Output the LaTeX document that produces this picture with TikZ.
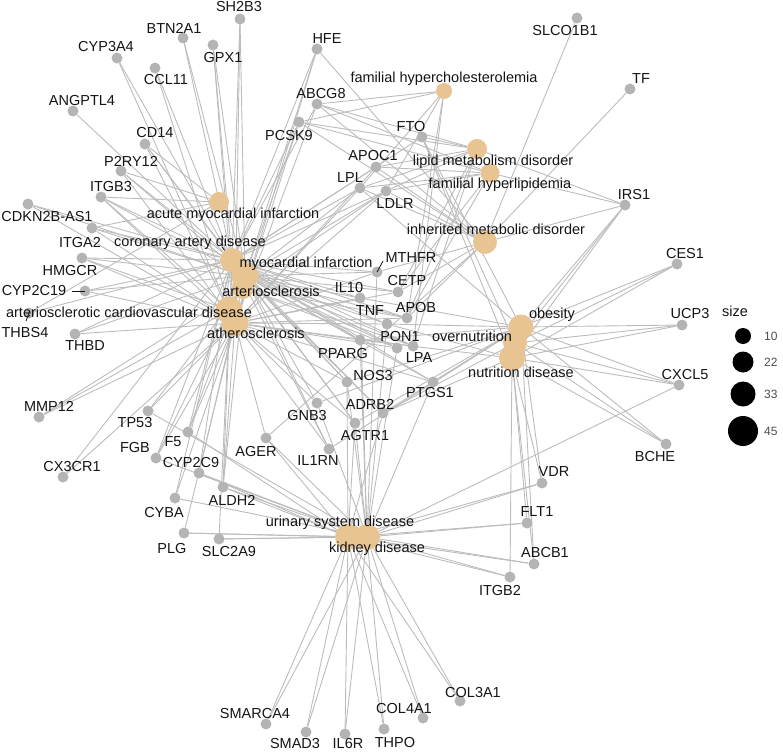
\documentclass[tikz,border=0pt]{standalone}
\usepackage{fontspec}
\setmainfont{Liberation Sans}
\usepackage{tikz}
\usetikzlibrary{
  backgrounds
}
\definecolor{diseasecolor}{RGB}{231, 196, 146}
\definecolor{genecolor}{RGB}{180, 180, 180}
\definecolor{edgecolor}{RGB}{188, 188, 188}
\definecolor{labelcolor}{RGB}{20, 20, 20}
\definecolor{legendtext}{RGB}{77, 77, 77}
\tikzset{
gene/.style={
  circle,
  fill=genecolor,
  inner sep=0pt,
  minimum size=11pt
},
disease/.style={
  circle,
  fill=diseasecolor,
  inner sep=0pt,
  minimum size=#1
},
netlabel/.style={
  font=\fontsize{14.5}{16}\selectfont,
  text=labelcolor,
  inner sep=0pt
},
edge/.style={
  draw=edgecolor,
  line width=0.9pt
},
leader/.style={
  draw=labelcolor,
  line width=0.8pt
},
legenddot/.style={
  circle,
  fill=black,
  inner sep=0pt,
  minimum size=#1
},
legendlabel/.style={
  font=\fontsize{12}{14}\selectfont,
  text=legendtext,
  anchor=west,
  inner sep=0pt
}
}

\begin{document}
\begin{tikzpicture}[x=1pt,y=-1pt]
  \useasboundingbox (0,0) rectangle (783,752);
  % disease terms
  \foreach \n/\x/\y/\s in {
      fh/444/91/16, lmd/477/149/20, fhl/490/173/19, imd/485/242/24,
      ami/219/202/20, cad/232/260/24, mi/245/276/27, ars/243/288/22,
      acvd/229/310/27, ath/235/323/27,
      obe/521/327/25, ovn/515/343/24, nut/512/358/26,
      usd/348/537/26, kid/367/537/26}
    \node[disease=\s pt] (\n) at (\x,\y) {};
  % genes
  \foreach \n/\x/\y in {
      SH2B3/240/19, BTN2A1/183/38, GPX1/213/45, CYP3A4/117/58, CCL11/155/68,
      ANGPTL4/73/111, CD14/145/144, P2RY12/121/171, ITGB3/101/197,
      CDKN2BAS1/28/204, ITGA2/92/228, HMGCR/82/258, CYP2C19/85/291,
      THBS4/29/313, THBD/75/334, MMP12/39/417, TP53/148/411, F5/188/432,
      FGB/156/458, CX3CR1/63/477, CYP2C9/199/473, AGER/266/438, GNB3/317/403,
      IL1RN/329/449, ALDH2/223/487, CYBA/175/498, PLG/184/533, SLC2A9/219/539,
      SMARCA4/266/724, SMAD3/306/732, IL6R/345/734, THPO/384/729,
      COL4A1/423/718, COL3A1/460/701, VDR/542/483, FLT1/527/523,
      ABCB1/534/564, ITGB2/510/577, CES1/677/264, UCP3/682/325,
      CXCL5/679/385, BCHE/666/444, SLCO1B1/577/18, TF/630/89, IRS1/625/205,
      HFE/317/49, ABCG8/317/104, PCSK9/299/122, FTO/422/137, APOC1/376/167,
      LPL/360/188, LDLR/386/191, MTHFR/377/272, CETP/398/292, IL10/360/298,
      TNF/387/324, APOB/407/318, PON1/397/348, PPARG/360/340, LPA/413/346,
      NOS3/347/382, ADRB2/383/413, AGTR1/355/423, PTGS1/433/382}
    \node[gene] (\n) at (\x,\y) {};

  \begin{scope}[on background layer]
    \foreach \g/\ds in {
        SH2B3/{cad,mi,ath}, BTN2A1/{cad,mi}, GPX1/{cad,mi,ath},
        CYP3A4/{cad,ath}, CCL11/{cad,ath}, ANGPTL4/{cad},
        CD14/{ami,cad,mi,ath}, P2RY12/{ami,cad,mi,ath},
        ITGB3/{ami,cad,mi,ath,acvd}, CDKN2BAS1/{cad,mi,ath},
        ITGA2/{ami,cad,mi,ath}, HMGCR/{cad,mi,ath,acvd},
        CYP2C19/{cad,mi,ath}, THBS4/{cad,ami}, THBD/{cad,mi,ath},
        MMP12/{ath,acvd,ars}, TP53/{ath,ars,kid}, F5/{cad,mi,ath,usd},
        FGB/{cad,mi,ath,kid}, CX3CR1/{ath,cad}, CYP2C9/{cad,mi,usd,kid},
        AGER/{ath,usd,kid,imd}, GNB3/{mi,ath,obe,kid}, IL1RN/{cad,mi,ath,obe},
        ALDH2/{cad,mi,ath,usd,kid}, CYBA/{cad,ath,kid}, PLG/{ath,usd,kid},
        SLC2A9/{cad,usd,kid}, SMARCA4/{usd,kid}, SMAD3/{usd,kid},
        IL6R/{usd,kid}, THPO/{usd,kid}, COL4A1/{usd,kid}, COL3A1/{usd,kid},
        VDR/{usd,kid,nut,obe}, FLT1/{usd,kid,nut}, ABCB1/{usd,kid,nut,obe},
        ITGB2/{usd,kid,nut}, CES1/{obe,nut,ovn}, UCP3/{obe,nut,ovn},
        CXCL5/{obe,nut,ovn,kid}, BCHE/{obe,nut,ovn},
        IRS1/{lmd,fhl,imd,obe,nut,ovn}, TF/{imd}, SLCO1B1/{imd},
        HFE/{cad,mi,ath,imd}, ABCG8/{fh,lmd,fhl,imd,cad,ath},
        PCSK9/{fh,lmd,fhl,imd,cad,mi,ath}, FTO/{obe,nut,ovn,lmd,cad},
        APOC1/{lmd,fhl,imd,cad,ath}, LPL/{fh,lmd,fhl,imd,cad,mi,ath,obe},
        LDLR/{fh,lmd,fhl,imd,cad,mi,ath,ars}, MTHFR/{cad,mi,ath,imd,kid},
        CETP/{lmd,fhl,imd,cad,mi,ath}, IL10/{cad,mi,ath,kid,obe},
        TNF/{cad,mi,ath,obe,nut,kid}, APOB/{fh,lmd,fhl,imd,cad,mi,ath,ars},
        PON1/{cad,mi,ath,ars,kid}, PPARG/{cad,mi,ath,obe,nut,kid},
        LPA/{cad,mi,ath,ars,lmd,fh}, NOS3/{cad,mi,ath,kid,usd,obe},
        ADRB2/{obe,nut,ovn,cad,mi,usd}, AGTR1/{cad,mi,ath,kid,usd,obe},
        PTGS1/{cad,mi,ath,obe,kid}}
      \foreach \d in \ds
        \draw[edge] (\g) -- (\d);
  \end{scope}

  % labels
  \foreach \n/\x/\y/\t in {
      fh/444/79/familial hypercholesterolemia, lmd/493/162/lipid metabolism disorder,
      fhl/500/185/familial hyperlipidemia, imd/496/229/inherited metabolic disorder,
      ami/233/215/acute myocardial infarction, cad/190/243/coronary artery disease,
      mi/306/264/myocardial infarction, ars/271/291/arteriosclerosis,
      acvd/129/312/arteriosclerotic cardiovascular disease, ath/256/333/atherosclerosis,
      obe/552/315/obesity, ovn/472/336/overnutrition, nut/521/372/nutrition disease,
      usd/340/523/urinary system disease, kid/377/549/kidney disease}
    \node[netlabel] (\n-lab) at (\x,\y) {\t};
  \foreach \n/\x/\y/\t in {
      SH2B3/239/7/SH2B3, BTN2A1/174/28/BTN2A1, GPX1/223/58/GPX1,
      CYP3A4/106/47/CYP3A4, CCL11/166/80/CCL11, ANGPTL4/82/101/ANGPTL4,
      CD14/155/133/CD14, P2RY12/131/161/P2RY12, ITGB3/111/187/ITGB3,
      CDKN2BAS1/47/217/CDKN2B-AS1, ITGA2/80/243/ITGA2, HMGCR/70/271/HMGCR,
      CYP2C19/34/291/CYP2C19, THBS4/25/333/THBS4, THBD/85/346/THBD,
      MMP12/49/406/MMP12, TP53/135/423/TP53, FGB/135/448/FGB, F5/173/442/F5,
      CYP2C9/191/463/CYP2C9, CX3CR1/72/467/CX3CR1, AGER/256/452/AGER,
      GNB3/307/416/GNB3, IL1RN/318/461/IL1RN, ALDH2/232/500/ALDH2,
      CYBA/164/512/CYBA, PLG/172/548/PLG, SLC2A9/229/551/SLC2A9,
      SMARCA4/255/713/SMARCA4, SMAD3/295/743/SMAD3, IL6R/348/743/IL6R,
      THPO/395/742/THPO, COL4A1/404/708/COL4A1, COL3A1/473/692/COL3A1,
      VDR/554/472/VDR, FLT1/537/512/FLT1, ABCB1/545/552/ABCB1,
      ITGB2/500/590/ITGB2, CES1/685/254/CES1, UCP3/690/314/UCP3,
      CXCL5/685/375/CXCL5, BCHE/655/457/BCHE, SLCO1B1/565/31/SLCO1B1,
      TF/641/79/TF, IRS1/634/195/IRS1, HFE/327/39/HFE, ABCG8/321/94/ABCG8,
      PCSK9/289/136/PCSK9, FTO/411/127/FTO, APOC1/373/156/APOC1,
      LPL/350/178/LPL, LDLR/395/204/LDLR, MTHFR/411/258/MTHFR,
      CETP/407/281/CETP, IL10/349/288/IL10, TNF/370/311/TNF,
      APOB/416/308/APOB, PON1/400/337/PON1, PPARG/343/354/PPARG,
      LPA/419/358/LPA, NOS3/373/376/NOS3, ADRB2/370/404/ADRB2,
      AGTR1/365/436/AGTR1, PTGS1/430/393/PTGS1}
    \node[netlabel] (\n-lab) at (\x,\y) {\t};

  % leader segments
  \coordinate (cad-end) at (222,247);
  \coordinate (cyp-end) at (72,291);
  \coordinate (thbs-end) at (26,321);
  \coordinate (mthfr-end) at (383,261);
  \draw[leader] (cad-end) -- (cad);
  \draw[leader] (cyp-end) -- (CYP2C19.center);
  \draw[leader] (thbs-end) -- (THBS4.center);
  \draw[leader] (mthfr-end) -- (MTHFR.center);

  % legend
  \node[netlabel, anchor=west] (size-title) at (722,311) {size};
  \foreach \n/\y/\s in {10/336/16, 22/362/21, 33/394/25, 45/431/30}{
    \node[legenddot=\s pt] (leg\n) at (743,\y) {};
    \node[legendlabel] (leg\n-lab) at (764,\y) {\n};
  }
\end{tikzpicture}
\end{document}
